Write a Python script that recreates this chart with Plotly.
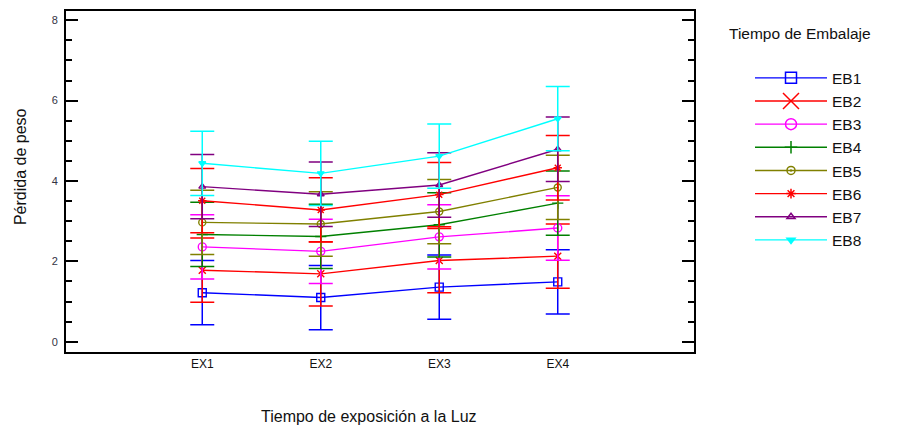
import plotly.graph_objects as go

categories = ["EX1", "EX2", "EX3", "EX4"]
series_names = ["EB1", "EB2", "EB3", "EB4", "EB5", "EB6", "EB7", "EB8"]

eb1 = [1.22, 1.10, 1.36, 1.49]
eb2 = [1.78, 1.69, 2.02, 2.13]
eb3 = [2.36, 2.25, 2.61, 2.83]
eb4 = [2.67, 2.62, 2.91, 3.45]
eb5 = [2.97, 2.93, 3.24, 3.84]
eb6 = [3.51, 3.28, 3.66, 4.33]
eb7 = [3.86, 3.67, 3.90, 4.79]
eb8 = [4.44, 4.19, 4.62, 5.55]
values = [eb1, eb2, eb3, eb4, eb5, eb6, eb7, eb8]

err_half = [0.80, 0.80, 0.80, 0.80]

colors = ["#0000FF", "#FF0000", "#FF00FF", "#008000", "#808000", "#FF0000", "#800080", "#00FFFF"]
symbols = ["square-open", "x-thin-open", "circle-open", "cross-thin-open", "circle-open-dot",
           "asterisk-open", "triangle-up-open", "triangle-down"]
plot_sizes = [8, 7, 8, 8, 7, 7, 6, 6]
legend_sizes = [11, 16, 11, 9, 8, 8, 7, 7]

y_tickvals = [0, 2, 4, 6, 8]
y_ticktext = ["0", "2", "4", "6", "8"]

fig = go.Figure()
for name, vals, col, sym, sz in zip(series_names, values, colors, symbols, plot_sizes):
    fig.add_trace(go.Scatter(
        x=list(range(len(categories))), y=vals, name=name, mode="lines+markers",
        showlegend=False,
        line=dict(color=col, width=1.4),
        marker=dict(symbol=sym, size=sz, color=col, line=dict(color=col, width=1.4)),
        error_y=dict(type="data", array=err_half, visible=True, color=col,
                     thickness=1.5, width=12),
    ))
# legend entries (larger legend symbols as in the reference)
for name, col, sym, sz in zip(series_names, colors, symbols, legend_sizes):
    fig.add_trace(go.Scatter(
        x=[None], y=[None], name=name, mode="lines+markers",
        line=dict(color=col, width=1.4),
        marker=dict(symbol=sym, size=sz, color=col, line=dict(color=col, width=1.5)),
    ))

fig.update_layout(
    width=924, height=432,
    margin=dict(l=66, r=230, t=9, b=80),
    paper_bgcolor="white", plot_bgcolor="white",
    font=dict(family="Liberation Sans, Arial, sans-serif", color="#222222"),
    showlegend=True,
    legend=dict(
        x=(750 - 66) / 628, xanchor="left", y=0.8525, yanchor="top",
        font=dict(size=15.5, color="#111111"),
        itemwidth=72, tracegroupgap=0, bgcolor="rgba(0,0,0,0)",
    ),
    xaxis=dict(
        range=[-1.15, 4.15], tickvals=list(range(len(categories))), ticktext=categories,
        showline=True, linecolor="black", linewidth=2, mirror=True,
        ticks="", showgrid=False, zeroline=False,
        tickfont=dict(family="Liberation Sans Narrow, Liberation Sans, sans-serif", size=12, color="#111111"),
    ),
    yaxis=dict(
        range=[-0.255, 8.23], tickvals=y_tickvals, ticktext=y_ticktext,
        showline=True, linecolor="black", linewidth=2, mirror="allticks",
        ticks="inside", ticklen=12, tickwidth=2, tickcolor="black",
        minor=dict(dtick=0.5, ticks="inside", ticklen=6, tickwidth=2, tickcolor="black", showgrid=False),
        showgrid=False, zeroline=False,
        tickfont=dict(size=11, color="#333344"),
        ticklabelstandoff=4,
    ),
    annotations=[
        dict(text="Tiempo de Embalaje", xref="paper", yref="paper", x=(727 - 66) / 628, y=(352 - 32) / 343,
             xanchor="left", yanchor="middle", showarrow=False, font=dict(size=15.5, color="#111111")),
        dict(text="Tiempo de exposición a la Luz", xref="paper", yref="paper", x=(369 - 66) / 628,
             y=(352 - 417) / 343, xanchor="center", yanchor="middle", showarrow=False,
             font=dict(size=16, color="#111111")),
        dict(text="Pérdida de peso", xref="paper", yref="paper", x=(20 - 66) / 628,
             y=(352 - 166) / 343, xanchor="center", yanchor="middle", showarrow=False, textangle=-90,
             font=dict(size=16, color="#111111")),
    ],
)

fig.write_html("out.html")
